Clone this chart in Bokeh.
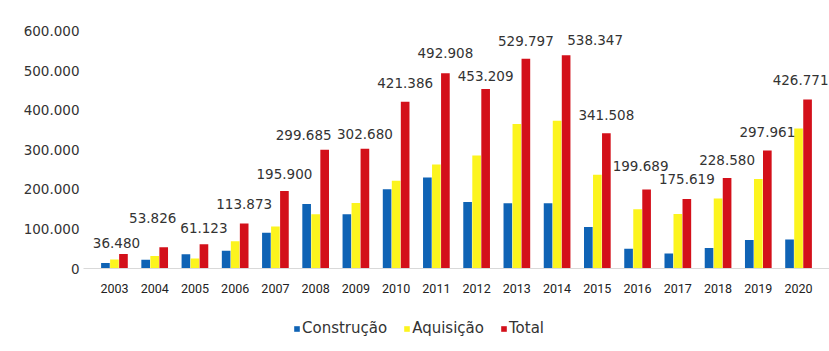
from bokeh.plotting import figure
from bokeh.layouts import column
from bokeh.models import (ColumnDataSource, FactorRange, Range1d, FixedTicker,
                          Legend, LegendItem, LabelSet)
from bokeh.transform import dodge
from bokeh.core.properties import value
from bokeh.embed import file_html
from bokeh.resources import INLINE

# ---- data ----
years = ["2003", "2004", "2005", "2006", "2007", "2008", "2009", "2010", "2011",
         "2012", "2013", "2014", "2015", "2016", "2017", "2018", "2019", "2020"]
construcao = [14000, 22000, 36000, 45000, 90000, 163000, 137000, 200000, 230000,
              168000, 165000, 165000, 105000, 50000, 38000, 52000, 72000, 73000]
aquisicao = [22480, 31826, 25123, 68873, 105900, 136685, 165680, 221386, 262908,
             285209, 364797, 373347, 236508, 149689, 137619, 176580, 225961, 353771]
total = [36480, 53826, 61123, 113873, 195900, 299685, 302680, 421386, 492908,
         453209, 529797, 538347, 341508, 199689, 175619, 228580, 297961, 426771]
y_ticks = [0, 100000, 200000, 300000, 400000, 500000, 600000]
y_tick_labels = ["0", "100.000", "200.000", "300.000", "400.000", "500.000", "600.000"]
series_names = ["Construção", "Aquisição", "Total"]

# label nudges (screen px) for the value labels
label_dx = [-7, -11, 0, 0, 0, -21, 0, 0, 0, 0, 0, 29, 0, -6, 0, 0, 0, -7]
label_dy = [-11, -29, -16, -19, -17, -15, -15, -19, -20, -13, -18, -15, -18, -23, -20, -18, -19, -19]

BLUE = "#0f63b5"
YELLOW = "#fcf41e"
RED = "#d3101a"
TXT = "#333333"
FONT = "DejaVu Sans"

labels = [f"{v:,}".replace(",", ".") for v in total]
src = ColumnDataSource(dict(year=years, c=construcao, a=aquisicao, t=total,
                            lab=labels, dx=label_dx, dy=[-d for d in label_dy]))

p = figure(x_range=FactorRange(factors=years, range_padding=0.269,
                               range_padding_units="absolute"),
           y_range=Range1d(0, 636364),
           width=829, height=310, output_backend="svg", toolbar_location=None,
           min_border_left=83, min_border_right=0, min_border_top=16,
           min_border_bottom=42)
p.outline_line_color = None
p.background_fill_color = "white"
p.border_fill_color = "white"
p.xgrid.grid_line_color = None
p.ygrid.grid_line_color = None

w = 0.215
off = 0.224
r1 = p.vbar(x=dodge("year", -off, range=p.x_range), top="c", width=w,
            source=src, color=BLUE, line_color=None)
r2 = p.vbar(x=dodge("year", 0, range=p.x_range), top="a", width=w,
            source=src, color=YELLOW, line_color=None)
r3 = p.vbar(x=dodge("year", off, range=p.x_range), top="t", width=w,
            source=src, color=RED, line_color=None)

labelset = LabelSet(x=dodge("year", off, range=p.x_range), y="t", text="lab",
                    source=src, x_offset="dx", y_offset="dy",
                    text_align="center", text_baseline="middle",
                    text_font=value(FONT), text_font_size="13.5px",
                    text_color=TXT)
p.add_layout(labelset)

# y axis
p.yaxis.ticker = FixedTicker(ticks=y_ticks)
p.yaxis.major_label_overrides = {t: l for t, l in zip(y_ticks, y_tick_labels)}
p.yaxis.axis_line_color = None
p.yaxis.major_tick_line_color = None
p.yaxis.minor_tick_line_color = None
p.yaxis.major_tick_out = 0
p.yaxis.major_label_standoff = 4
p.yaxis.major_label_text_font = FONT
p.yaxis.major_label_text_font_size = "13.5px"
p.yaxis.major_label_text_color = TXT

# x axis
p.xaxis.axis_line_color = "#d9d9d9"
p.xaxis.major_tick_line_color = None
p.xaxis.major_tick_out = 0
p.xaxis.major_label_standoff = 15
p.xaxis.major_label_text_font = "Roboto"
p.xaxis.major_label_text_font_size = "12.5px"
p.xaxis.major_label_text_color = "#222222"

# legend strip below the chart (frames are aligned with the chart above)
lf = figure(width=829, height=41, output_backend="svg", toolbar_location=None,
            x_axis_location=None, y_axis_location=None,
            min_border_left=0, min_border_right=0, min_border_top=0,
            min_border_bottom=0, x_range=Range1d(0, 1), y_range=Range1d(0, 1))
lf.outline_line_color = None
lf.xgrid.grid_line_color = None
lf.ygrid.grid_line_color = None
# swatch renderers: their values fall outside this strip's ranges, only the legend shows
g1 = lf.vbar(x="c", top="c", width=1, source=src, color=BLUE, line_color=None)
g2 = lf.vbar(x="a", top="a", width=1, source=src, color=YELLOW, line_color=None)
g3 = lf.vbar(x="t", top="t", width=1, source=src, color=RED, line_color=None)

legend = Legend(items=[LegendItem(label=series_names[0], renderers=[g1]),
                       LegendItem(label=series_names[1], renderers=[g2]),
                       LegendItem(label=series_names[2], renderers=[g3])],
                orientation="horizontal", location=(210, 14))
legend.border_line_color = None
legend.background_fill_alpha = 0
legend.glyph_width = 7
legend.glyph_height = 7
legend.label_standoff = 2
legend.spacing = 16
legend.padding = 0
legend.margin = 0
legend.label_height = 14
legend.label_text_font = FONT
legend.label_text_font_size = "15px"
legend.label_text_color = TXT
lf.add_layout(legend)

layout = column(p, lf, spacing=0)
open("out.html", "w").write(file_html(layout, INLINE))
